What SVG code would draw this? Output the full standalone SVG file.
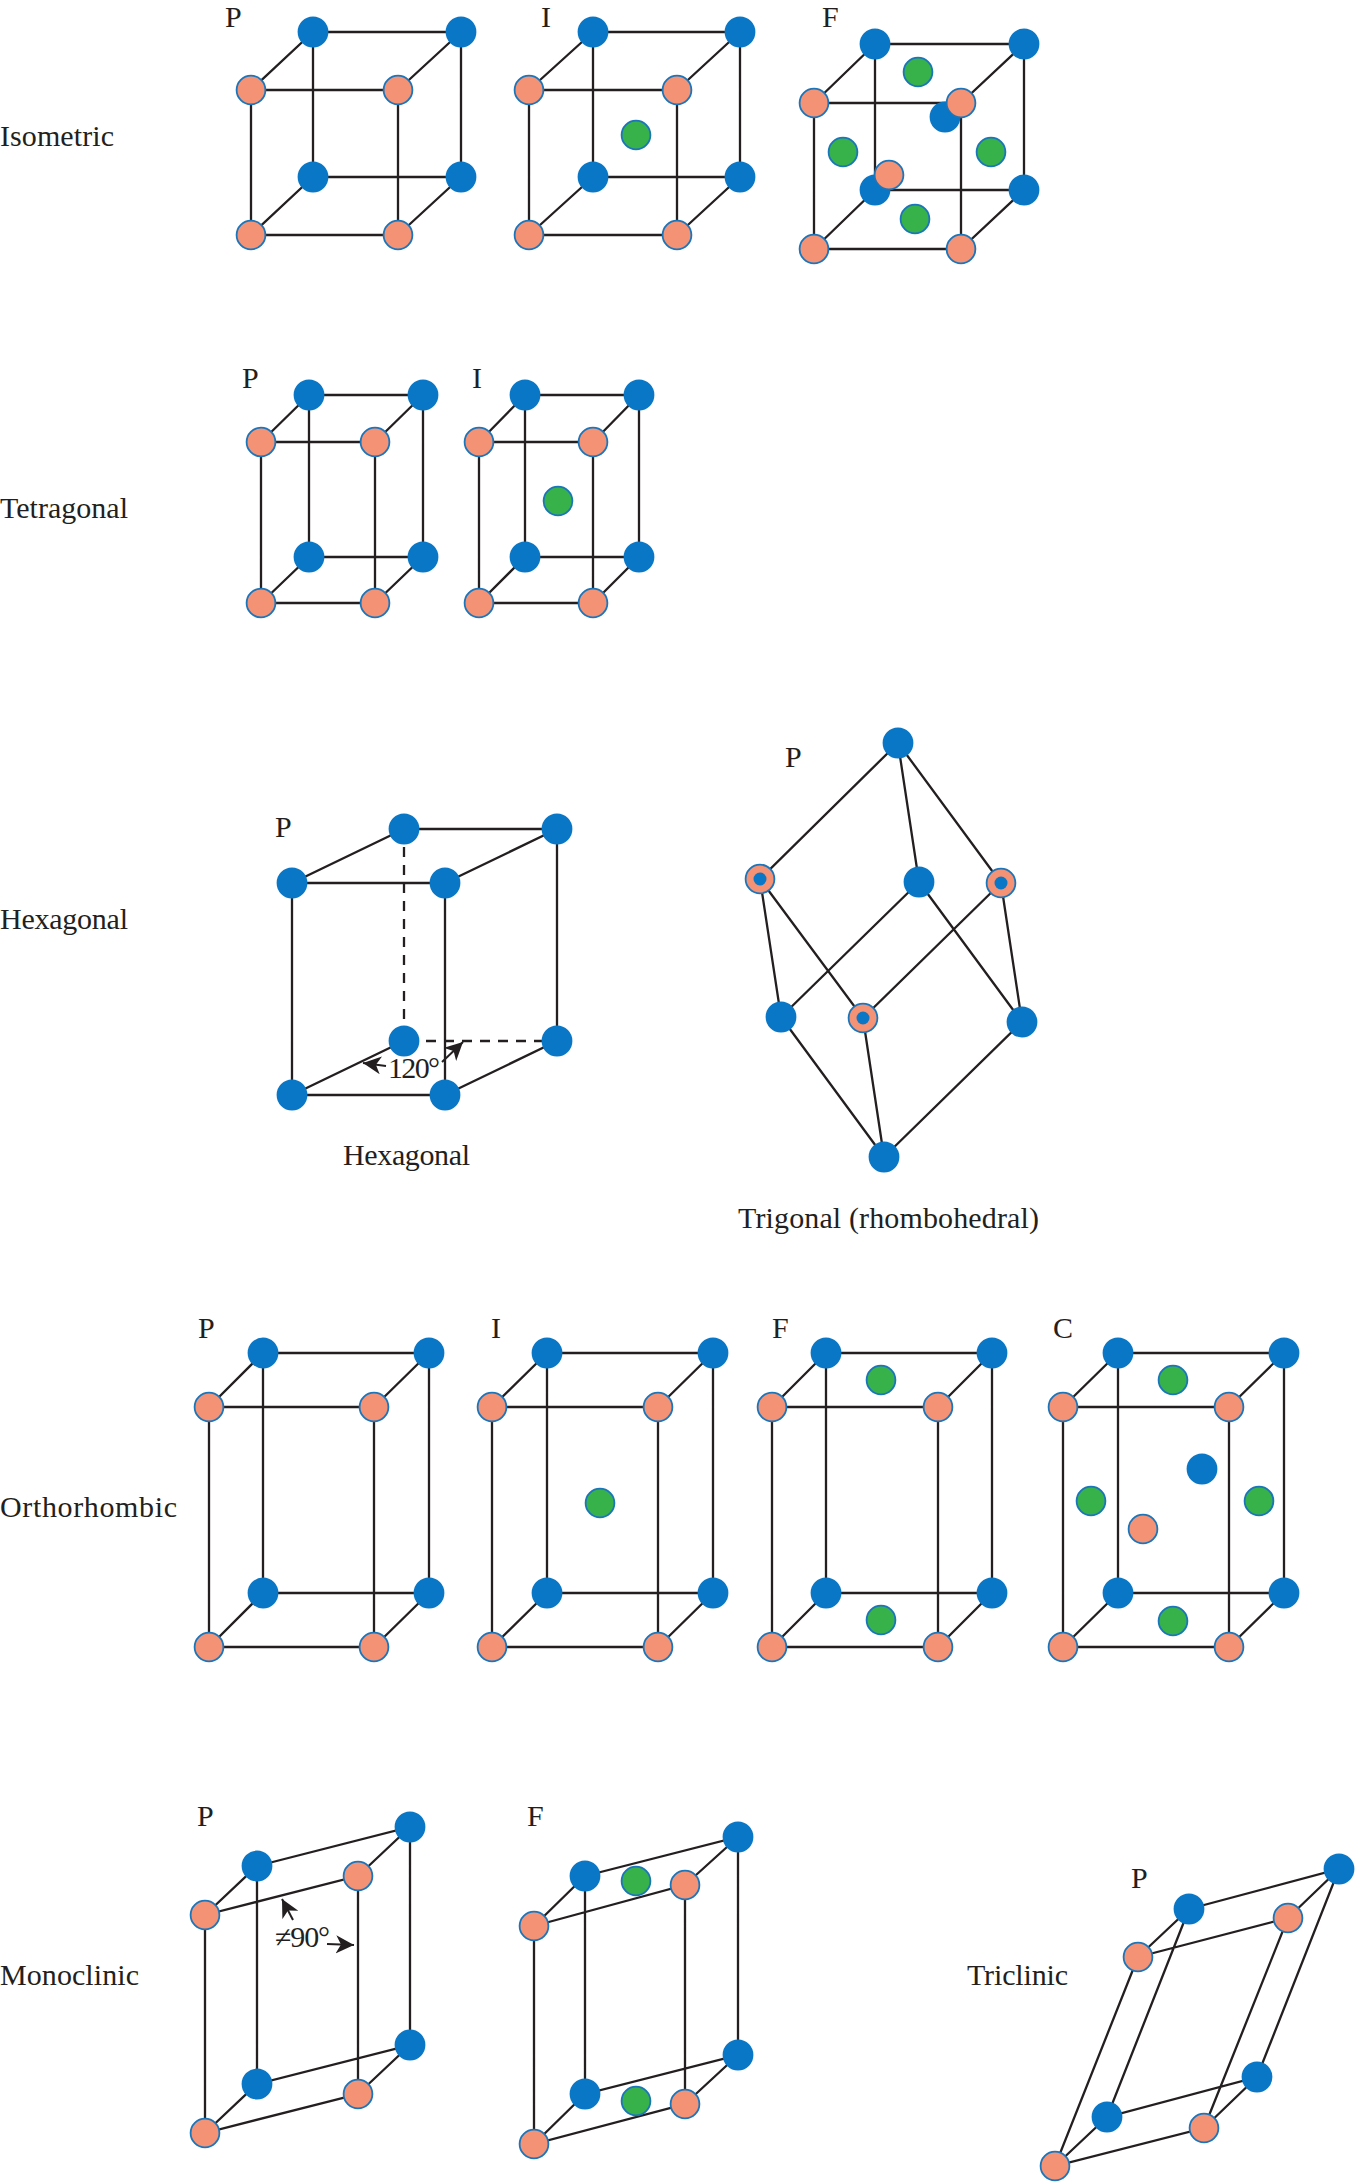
<svg xmlns="http://www.w3.org/2000/svg" width="1358" height="2182" viewBox="0 0 1358 2182">
<style>
text{font-family:"Liberation Serif","Times New Roman",serif;font-size:30px;fill:#231f20}
#connectors path{fill:none;stroke:#231f20;stroke-width:2.3}
#connectors path.dash{stroke-dasharray:10 8}
#connectors path.arrow{stroke-width:2;marker-end:url(#tip)}
circle{r:15.4px}
.b{fill:#0a77c6}
.p{fill:#f39274;stroke:#1b75bb;stroke-width:1.8;r:14.4px}
.g{fill:#37b24a;stroke:#1b75bb;stroke-width:1.8;r:14.4px}
.d{fill:#0a77c6;r:6.5px}
</style>
<defs>
<marker id="tip" markerUnits="userSpaceOnUse" markerWidth="22" markerHeight="20" refX="18" refY="9" orient="auto"><path d="M0,0L18,9L0,18L5,9Z" fill="#231f20"/></marker>
</defs>
<rect width="1358" height="2182" fill="#fff"/>
<g id="connectors">
<path d="M251 90H398V235H251ZM313 32H461V177H313ZM251 90L313 32M398 90L461 32M251 235L313 177M398 235L461 177"/>
<path d="M529 90H677V235H529ZM593 32H740V177H593ZM529 90L593 32M677 90L740 32M529 235L593 177M677 235L740 177"/>
<path d="M814 103H961V249H814ZM875 44H1024V190H875ZM814 103L875 44M961 103L1024 44M814 249L875 190M961 249L1024 190"/>
<path d="M261 442H375V603H261ZM309 395H423V557H309ZM261 442L309 395M375 442L423 395M261 603L309 557M375 603L423 557"/>
<path d="M479 442H593V603H479ZM525 395H639V557H525ZM479 442L525 395M593 442L639 395M479 603L525 557M593 603L639 557"/>
<path d="M292 883H445V1095H292ZM404 829H557V1041M292 883L404 829M445 883L557 829M292 1095L404 1041M445 1095L557 1041"/>
<path class="dash" d="M404 829V1041H557"/>
<path class="arrow" d="M386 1066L363 1063"/>
<path class="arrow" d="M442 1062L463 1042"/>
<path d="M898 743L760 879M898 743L919 882M898 743L1001 883M760 879L781 1017M760 879L863 1018M919 882L781 1017M919 882L1022 1022M1001 883L863 1018M1001 883L1022 1022M781 1017L884 1157M863 1018L884 1157M1022 1022L884 1157"/>
<path d="M209 1407H374V1647H209ZM263 1353H429V1593H263ZM209 1407L263 1353M374 1407L429 1353M209 1647L263 1593M374 1647L429 1593"/>
<path d="M492 1407H658V1647H492ZM547 1353H713V1593H547ZM492 1407L547 1353M658 1407L713 1353M492 1647L547 1593M658 1647L713 1593"/>
<path d="M772 1407H938V1647H772ZM826 1353H992V1593H826ZM772 1407L826 1353M938 1407L992 1353M772 1647L826 1593M938 1647L992 1593"/>
<path d="M1063 1407H1229V1647H1063ZM1118 1353H1284V1593H1118ZM1063 1407L1118 1353M1229 1407L1284 1353M1063 1647L1118 1593M1229 1647L1284 1593"/>
<path d="M205 1915L358 1876V2094L205 2133ZM257 1866L410 1827V2045L257 2084ZM205 1915L257 1866M358 1876L410 1827M205 2133L257 2084M358 2094L410 2045"/>
<path class="arrow" d="M293 1920L282 1899"/>
<path class="arrow" d="M327 1944L354 1945"/>
<path d="M534 1926L685 1885V2104L534 2144ZM585 1876L738 1837V2055L585 2094ZM534 1926L585 1876M685 1885L738 1837M534 2144L585 2094M685 2104L738 2055"/>
<path d="M1138 1957L1288 1918L1204 2128L1055 2166ZM1189 1909L1339 1869L1257 2077L1107 2117ZM1138 1957L1189 1909M1288 1918L1339 1869M1055 2166L1107 2117M1204 2128L1257 2077"/>
</g>
<g id="isometric-p">
<circle class="b" cx="313" cy="32"/><circle class="b" cx="461" cy="32"/><circle class="b" cx="313" cy="177"/><circle class="b" cx="461" cy="177"/>
<circle class="p" cx="251" cy="90"/><circle class="p" cx="398" cy="90"/><circle class="p" cx="251" cy="235"/><circle class="p" cx="398" cy="235"/>
<text x="225" y="27">P</text>
</g>
<g id="isometric-i">
<circle class="b" cx="593" cy="32"/><circle class="b" cx="740" cy="32"/><circle class="b" cx="593" cy="177"/><circle class="b" cx="740" cy="177"/>
<circle class="p" cx="529" cy="90"/><circle class="p" cx="677" cy="90"/><circle class="p" cx="529" cy="235"/><circle class="p" cx="677" cy="235"/>
<circle class="g" cx="636" cy="135"/>
<text x="541" y="27">I</text>
</g>
<g id="isometric-f">
<circle class="b" cx="875" cy="44"/><circle class="b" cx="1024" cy="44"/><circle class="b" cx="875" cy="190"/><circle class="b" cx="1024" cy="190"/><circle class="b" cx="945" cy="117"/>
<circle class="p" cx="814" cy="103"/><circle class="p" cx="961" cy="103"/><circle class="p" cx="814" cy="249"/><circle class="p" cx="961" cy="249"/><circle class="p" cx="889" cy="175"/>
<circle class="g" cx="918" cy="72"/><circle class="g" cx="843" cy="152"/><circle class="g" cx="991" cy="152"/><circle class="g" cx="915" cy="219"/>
<text x="822" y="27">F</text>
</g>
<g id="tetragonal-p">
<circle class="b" cx="309" cy="395"/><circle class="b" cx="423" cy="395"/><circle class="b" cx="309" cy="557"/><circle class="b" cx="423" cy="557"/>
<circle class="p" cx="261" cy="442"/><circle class="p" cx="375" cy="442"/><circle class="p" cx="261" cy="603"/><circle class="p" cx="375" cy="603"/>
<text x="242" y="388">P</text>
</g>
<g id="tetragonal-i">
<circle class="b" cx="525" cy="395"/><circle class="b" cx="639" cy="395"/><circle class="b" cx="525" cy="557"/><circle class="b" cx="639" cy="557"/>
<circle class="p" cx="479" cy="442"/><circle class="p" cx="593" cy="442"/><circle class="p" cx="479" cy="603"/><circle class="p" cx="593" cy="603"/>
<circle class="g" cx="558" cy="501"/>
<text x="472" y="388">I</text>
</g>
<g id="hexagonal-p">
<circle class="b" cx="404" cy="829"/><circle class="b" cx="557" cy="829"/><circle class="b" cx="292" cy="883"/><circle class="b" cx="445" cy="883"/>
<circle class="b" cx="404" cy="1041"/><circle class="b" cx="557" cy="1041"/><circle class="b" cx="292" cy="1095"/><circle class="b" cx="445" cy="1095"/>
<text x="275" y="837">P</text>
<text x="388" y="1078" textLength="52">120°</text>
<text x="343" y="1165" textLength="127">Hexagonal</text>
</g>
<g id="trigonal-p">
<circle class="b" cx="898" cy="743"/><circle class="b" cx="919" cy="882"/><circle class="b" cx="781" cy="1017"/><circle class="b" cx="1022" cy="1022"/><circle class="b" cx="884" cy="1157"/>
<circle class="p" cx="760" cy="879"/><circle class="d" cx="760" cy="879"/>
<circle class="p" cx="1001" cy="883"/><circle class="d" cx="1001" cy="883"/>
<circle class="p" cx="863" cy="1018"/><circle class="d" cx="863" cy="1018"/>
<text x="785" y="767">P</text>
<text x="738" y="1228" textLength="301">Trigonal (rhombohedral)</text>
</g>
<g id="orthorhombic-p">
<circle class="b" cx="263" cy="1353"/><circle class="b" cx="429" cy="1353"/><circle class="b" cx="263" cy="1593"/><circle class="b" cx="429" cy="1593"/>
<circle class="p" cx="209" cy="1407"/><circle class="p" cx="374" cy="1407"/><circle class="p" cx="209" cy="1647"/><circle class="p" cx="374" cy="1647"/>
<text x="198" y="1338">P</text>
</g>
<g id="orthorhombic-i">
<circle class="b" cx="547" cy="1353"/><circle class="b" cx="713" cy="1353"/><circle class="b" cx="547" cy="1593"/><circle class="b" cx="713" cy="1593"/>
<circle class="p" cx="492" cy="1407"/><circle class="p" cx="658" cy="1407"/><circle class="p" cx="492" cy="1647"/><circle class="p" cx="658" cy="1647"/>
<circle class="g" cx="600" cy="1503"/>
<text x="491" y="1338">I</text>
</g>
<g id="orthorhombic-f">
<circle class="b" cx="826" cy="1353"/><circle class="b" cx="992" cy="1353"/><circle class="b" cx="826" cy="1593"/><circle class="b" cx="992" cy="1593"/>
<circle class="p" cx="772" cy="1407"/><circle class="p" cx="938" cy="1407"/><circle class="p" cx="772" cy="1647"/><circle class="p" cx="938" cy="1647"/>
<circle class="g" cx="881" cy="1380"/><circle class="g" cx="881" cy="1620"/>
<text x="772" y="1338">F</text>
</g>
<g id="orthorhombic-c">
<circle class="b" cx="1118" cy="1353"/><circle class="b" cx="1284" cy="1353"/><circle class="b" cx="1118" cy="1593"/><circle class="b" cx="1284" cy="1593"/><circle class="b" cx="1202" cy="1469"/>
<circle class="p" cx="1063" cy="1407"/><circle class="p" cx="1229" cy="1407"/><circle class="p" cx="1063" cy="1647"/><circle class="p" cx="1229" cy="1647"/><circle class="p" cx="1143" cy="1529"/>
<circle class="g" cx="1173" cy="1380"/><circle class="g" cx="1091" cy="1501"/><circle class="g" cx="1259" cy="1501"/><circle class="g" cx="1173" cy="1621"/>
<text x="1053" y="1338">C</text>
</g>
<g id="monoclinic-p">
<circle class="b" cx="410" cy="1827"/><circle class="b" cx="257" cy="1866"/><circle class="b" cx="410" cy="2045"/><circle class="b" cx="257" cy="2084"/>
<circle class="p" cx="358" cy="1876"/><circle class="p" cx="205" cy="1915"/><circle class="p" cx="358" cy="2094"/><circle class="p" cx="205" cy="2133"/>
<text x="197" y="1826">P</text>
<text x="275" y="1947" textLength="55">≠90°</text>
</g>
<g id="monoclinic-f">
<circle class="b" cx="738" cy="1837"/><circle class="b" cx="585" cy="1876"/><circle class="b" cx="738" cy="2055"/><circle class="b" cx="585" cy="2094"/>
<circle class="p" cx="685" cy="1885"/><circle class="p" cx="534" cy="1926"/><circle class="p" cx="685" cy="2104"/><circle class="p" cx="534" cy="2144"/>
<circle class="g" cx="636" cy="1881"/><circle class="g" cx="636" cy="2101"/>
<text x="527" y="1826">F</text>
</g>
<g id="triclinic-p">
<circle class="b" cx="1339" cy="1869"/><circle class="b" cx="1189" cy="1909"/><circle class="b" cx="1257" cy="2077"/><circle class="b" cx="1107" cy="2117"/>
<circle class="p" cx="1288" cy="1918"/><circle class="p" cx="1138" cy="1957"/><circle class="p" cx="1204" cy="2128"/><circle class="p" cx="1055" cy="2166"/>
<text x="1131" y="1888">P</text>
</g>
<g id="system-labels">
<text x="0" y="146" textLength="114">Isometric</text>
<text x="0" y="518" textLength="128">Tetragonal</text>
<text x="0" y="929" textLength="128">Hexagonal</text>
<text x="0" y="1517" textLength="177">Orthorhombic</text>
<text x="0" y="1985" textLength="139">Monoclinic</text>
<text x="967" y="1985" textLength="101">Triclinic</text>
</g>
</svg>
